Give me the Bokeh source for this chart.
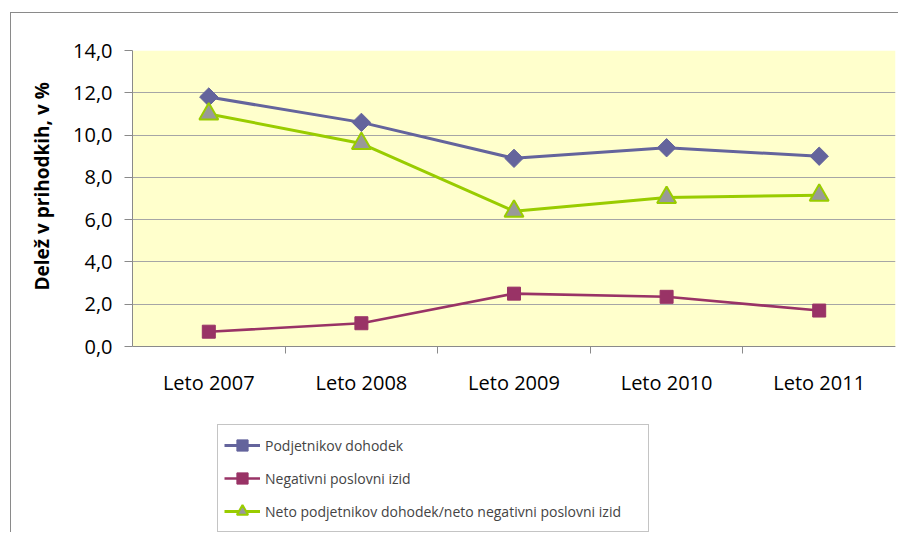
from bokeh.plotting import figure
from bokeh.models import (FactorRange, Range1d, CategoricalAxis, FixedTicker, LabelSet,
                          CustomJSTickFormatter, Legend, LegendItem, CategoricalScale,
                          BoxAnnotation, ColumnDataSource, Title)
from bokeh.core.properties import value
from bokeh.embed import file_html
from bokeh.resources import INLINE

years = ["Leto 2007", "Leto 2008", "Leto 2009", "Leto 2010", "Leto 2011"]
podjetnikov = [11.8, 10.6, 8.9, 9.4, 9.0]
negativni = [0.7, 1.1, 2.5, 2.35, 1.7]
neto = [11.0, 9.6, 6.4, 7.05, 7.15]
y_ticks = [0, 2, 4, 6, 8, 10, 12, 14]

names = ["Podjetnikov dohodek", "Negativni poslovni izid",
         "Neto podjetnikov dohodek/neto negativni poslovni izid"]
y_title = "Delež v prihodkih, v %"

FONT = "Open Sans"
GRAY = "#8a8a8a"

# layout (pixels)
W, H = 888, 520
TOP, BOTTOM_OF_AXIS = 37, 333          # canvas y of 14,0 and of 0,0
Y_MAX = max(y_ticks)
px_per_unit = (BOTTOM_OF_AXIS - TOP) / Y_MAX
y_start = -(H - BOTTOM_OF_AXIS) / px_per_unit

p = figure(width=W, height=H, output_backend="svg", toolbar_location=None,
           x_range=FactorRange(factors=years, range_padding=0),
           y_range=Range1d(y_start, Y_MAX), x_axis_location=None,
           min_border_left=121, min_border_right=4, min_border_top=TOP, min_border_bottom=0)
p.styles = {"margin-left": "10px", "margin-top": "12px",
            "border-left": "1px solid " + GRAY, "border-top": "1px solid " + GRAY}
p.background_fill_color = "white"
p.border_fill_color = "white"
p.outline_line_color = None

# yellow plot area (0 .. 14)
p.add_layout(BoxAnnotation(bottom=0, top=Y_MAX, fill_color="#FFFFCC", fill_alpha=1,
                           line_color=None, level="image"))

# y axis
ya = p.yaxis[0]
ya.ticker = FixedTicker(ticks=y_ticks)
ya.bounds = (0, Y_MAX)
ya.formatter = CustomJSTickFormatter(code="return tick.toFixed(1).replace('.', ',');")
ya.axis_line_color = GRAY
ya.major_tick_line_color = GRAY
ya.major_tick_out = 8
ya.major_tick_in = 0
ya.minor_tick_line_color = None
ya.major_label_text_font = FONT
ya.major_label_text_font_size = "20px"
ya.major_label_text_color = "black"
ya.major_label_standoff = 12

# y axis title, placed along the 0..14 part of the axis
p.add_layout(Title(text=y_title, align="left", vertical_align="middle", offset=243,
                   standoff=30, text_font=FONT, text_font_size="19px",
                   text_font_style="bold", text_color="black"), "left")

p.ygrid.ticker = FixedTicker(ticks=y_ticks)
p.ygrid.grid_line_color = "#a6a6a6"
p.ygrid.grid_line_width = 1.2
p.xgrid.grid_line_color = None

# x axis line at 0 with tick marks at the category edges
edges = [str(i) for i in range(len(years) + 1)]
p.extra_x_ranges = {"edges": FactorRange(factors=edges, range_padding=-1.0 / len(edges))}
p.extra_x_scales = {"edges": CategoricalScale()}
tick_axis = CategoricalAxis(x_range_name="edges", fixed_location=0,
                            major_label_text_font_size="1px", major_label_text_color=None,
                            major_label_standoff=0,
                            major_tick_out=0, major_tick_in=7, minor_tick_line_color=None,
                            axis_line_color=GRAY, major_tick_line_color=GRAY)
p.add_layout(tick_axis, "above")

# category labels under the axis
cat_src = ColumnDataSource(dict(x=years, text=years))
p.add_layout(LabelSet(x="x", y=0, text="text", source=cat_src, y_offset=-36,
                      text_align="center", text_baseline="middle",
                      text_font=value(FONT), text_font_size="20px", text_color="black"))

# series
l1 = p.line(years, podjetnikov, line_color="#64649c", line_width=3)
m1 = p.scatter(years, podjetnikov, marker="square", angle=0.785398, size=13,
               fill_color="#64649c", line_color="#64649c")
l2 = p.line(years, negativni, line_color="#993366", line_width=2.6)
m2 = p.scatter(years, negativni, marker="square", size=13,
               fill_color="#993366", line_color="#993366")
l3 = p.line(years, neto, line_color="#99CC00", line_width=3)
m3 = p.scatter(years, neto, marker="triangle", size=19,
               fill_color="#999999", line_color="#99CC00", line_width=2)

legend = Legend(items=[LegendItem(label=names[0], renderers=[l1, m1]),
                       LegendItem(label=names[1], renderers=[l2, m2]),
                       LegendItem(label=names[2], renderers=[l3, m3])],
                location=(85, 1), padding=6, margin=0, spacing=5,
                glyph_width=36, glyph_height=28, label_height=28, label_standoff=5,
                label_width=377,
                label_text_font=FONT, label_text_font_size="14px",
                border_line_color=GRAY, border_line_width=1,
                background_fill_color="white", background_fill_alpha=1)
p.add_layout(legend, "center")

open("out.html", "w").write(file_html(p, INLINE))
